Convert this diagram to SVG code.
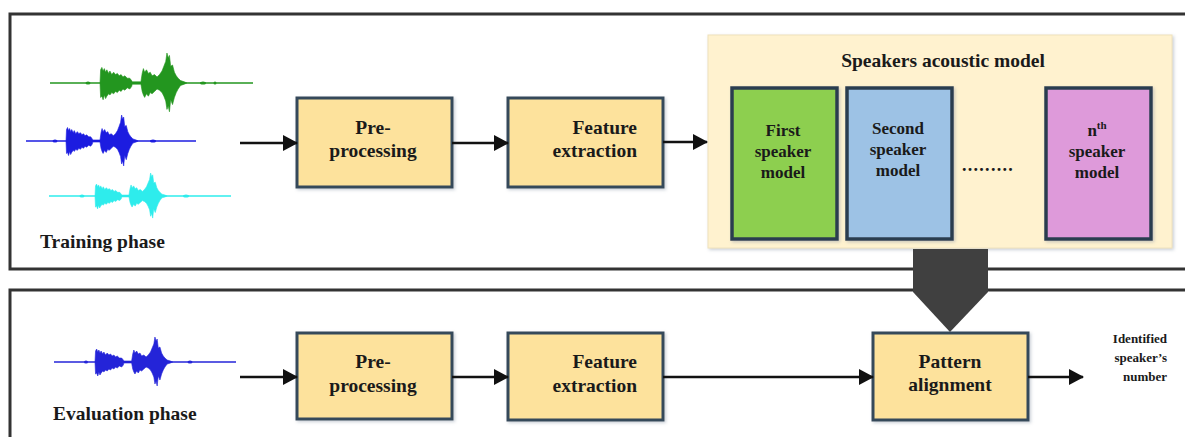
<svg xmlns="http://www.w3.org/2000/svg" xmlns:xlink="http://www.w3.org/1999/xlink" width="1185" height="437" viewBox="0 0 1185 437">
  <style>
    .frame { fill: none; stroke: #333; stroke-width: 3; }
    .box { fill: #FDE29C; stroke: #34495a; stroke-width: 3; filter: url(#soft); }
    .model { stroke: #2c3e50; stroke-width: 3.5; filter: url(#soft); }
    .lbl { font-family: "Liberation Serif", "Noto Serif", "DejaVu Serif", Tinos, "Nimbus Roman", FreeSerif, "Noto Serif CJK SC", "Noto Serif CJK JP", serif; font-weight: bold; fill: #1a1a1a; text-anchor: middle; }
    .b19 { font-size: 19.5px; }
    .b17 { font-size: 17px; }
    .conn { stroke: #111; stroke-width: 2.5; fill: none; marker-end: url(#ah); }
    .base { stroke-width: 1.4; fill: none; }
  </style>
  <defs>
    <marker id="ah" viewBox="0 0 15 16" refX="14" refY="8" markerWidth="15" markerHeight="16" markerUnits="userSpaceOnUse" orient="auto">
      <path d="M0,0 L15,8 L0,16 Z" fill="#111"/>
    </marker>
    <filter id="soft" x="-10%" y="-10%" width="125%" height="125%">
      <feDropShadow dx="1.5" dy="1.5" stdDeviation="1.5" flood-color="#8a96a8" flood-opacity="0.45"/>
    </filter>
    <!-- one spoken utterance: three energy bursts around a zero line -->
    <g id="burst">
      <path fill="currentColor" stroke="currentColor" stroke-width="0.6" vector-effect="non-scaling-stroke"
        d="M0,0 L0.5,-11 L1.5,-13 L2.5,-10 L3.5,-12 L4.5,-9 L5.5,-11 L7,-8 L8,-10 L9.5,-7 L11,-9 L12.5,-7 L14,-8 L15.5,-6 L17,-7 L18.5,-5 L20,-6 L22,-4 L24,-4 L25.5,-2 L26,-1 L33,-1 L34,-8 L35,-12 L36,-9 L37.5,-11 L39,-8 L40.5,-9 L42,-6 L44,-7 L46,-5 L48,-7 L50,-10 L51.5,-14 L53,-18 L54,-25 L55,-21 L56,-23 L57,-14 L58.5,-15 L60,-9 L61.5,-6 L63,-4 L65,-2 L68,-1 L70,0 L68,1 L65,2 L63,5 L61.5,8 L60,12 L58.5,18 L57,14 L56,24 L55,19 L54,22 L53,15 L51.5,11 L50,8 L48,6 L46,5 L44,7 L42,9 L40.5,8 L39,11 L37.5,9 L36,12 L35,10 L34,7 L33,1 L26,1 L25.5,3 L24,5 L22,4 L20,6 L18.5,5 L17,7 L15.5,6 L14,8 L12.5,7 L11,9 L9.5,8 L8,10 L7,9 L5.5,11 L4.5,13 L3.5,10 L2.5,14 L1.5,11 L0.5,12 Z"/>
    </g>
  </defs>

  <rect width="1185" height="437" fill="#ffffff"/>

  <!-- phase frames -->
  <g id="frames">
    <path class="frame" d="M1190,14 H10 V269 H1190"/>
    <path class="frame" d="M1190,290 H10 V445"/>
  </g>

  <!-- training waveforms -->
  <g id="training-signals">
    <g color="#23961f">
      <line class="base" x1="50" y1="83" x2="253" y2="83" stroke="#23961f"/>
      <ellipse cx="88" cy="83" rx="2.5" ry="1.5" fill="currentColor"/>
      <ellipse cx="203" cy="83" rx="3" ry="1.5" fill="currentColor"/>
      <ellipse cx="215" cy="83" rx="1.5" ry="1.5" fill="currentColor"/>
      <use xlink:href="#burst" href="#burst" transform="translate(100,83) scale(1.24,1.2)"/>
    </g>
    <g color="#1c1ce0">
      <line class="base" x1="26" y1="141" x2="196" y2="141" stroke="#1c1ce0"/>
      <ellipse cx="55" cy="141" rx="2.5" ry="1.5" fill="currentColor"/>
      <ellipse cx="153" cy="141" rx="3" ry="1.5" fill="currentColor"/>
      <use xlink:href="#burst" href="#burst" transform="translate(66,141) scale(1.03,1.04)"/>
    </g>
    <g color="#2eecec">
      <line class="base" x1="49" y1="196" x2="231" y2="196" stroke="#2eecec"/>
      <ellipse cx="82" cy="196" rx="2.5" ry="1.5" fill="currentColor"/>
      <ellipse cx="186" cy="196" rx="3" ry="1.5" fill="currentColor"/>
      <use xlink:href="#burst" href="#burst" transform="translate(95,196) scale(1.03,0.92)"/>
    </g>
    <text class="lbl b19" x="40" y="248" style="text-anchor:start">Training phase</text>
  </g>

  <!-- evaluation waveform -->
  <g id="evaluation-signal" color="#2424d8">
    <line class="base" x1="54" y1="362" x2="236" y2="362" stroke="#2424d8"/>
    <ellipse cx="86" cy="362" rx="2" ry="1.5" fill="currentColor"/>
    <ellipse cx="190" cy="362" rx="2.5" ry="1.5" fill="currentColor"/>
    <use xlink:href="#burst" href="#burst" transform="translate(95,362) scale(1.11,1.0)"/>
    <text class="lbl b19" x="53" y="420" style="text-anchor:start">Evaluation phase</text>
  </g>

  <!-- training pipeline -->
  <g id="train-preprocessing">
    <rect class="box" x="297" y="98" width="155" height="89"/>
    <text class="lbl b19" x="373" y="134">Pre-</text>
    <text class="lbl b19" x="373" y="157">processing</text>
  </g>
  <g id="train-feature-extraction">
    <rect class="box" x="508" y="98" width="155" height="89"/>
    <text class="lbl b19" x="637" y="134" style="text-anchor:end">Feature</text>
    <text class="lbl b19" x="637" y="157" style="text-anchor:end">extraction</text>
  </g>

  <g id="acoustic-model">
    <rect x="708" y="35" width="464" height="213" fill="#FFF2CF" stroke="#efe2bc" stroke-width="1" filter="url(#soft)"/>
    <text class="lbl b19" x="943" y="67">Speakers acoustic model</text>
  </g>
  <g id="first-speaker">
    <rect class="model" x="732" y="88" width="105" height="151" fill="#8DCF4F"/>
    <text class="lbl b17" x="783" y="136">First</text>
    <text class="lbl b17" x="783" y="157">speaker</text>
    <text class="lbl b17" x="783" y="178">model</text>
  </g>
  <g id="second-speaker">
    <rect class="model" x="847" y="88" width="105" height="151" fill="#9DC2E5"/>
    <text class="lbl b17" x="898" y="134">Second</text>
    <text class="lbl b17" x="898" y="155">speaker</text>
    <text class="lbl b17" x="898" y="176">model</text>
  </g>
  <g id="ellipsis">
    <text class="lbl" x="988" y="171" style="font-size:18px;letter-spacing:1.3px">.........</text>
  </g>
  <g id="nth-speaker">
    <rect class="model" x="1046" y="88" width="105" height="151" fill="#DE9ADA"/>
    <text class="lbl b17" x="1097" y="136">n<tspan dy="-7" style="font-size:11px">th</tspan></text>
    <text class="lbl b17" x="1097" y="157">speaker</text>
    <text class="lbl b17" x="1097" y="178">model</text>
  </g>

  <!-- evaluation pipeline -->
  <g id="eval-preprocessing">
    <rect class="box" x="297" y="333" width="155" height="86"/>
    <text class="lbl b19" x="373" y="368">Pre-</text>
    <text class="lbl b19" x="373" y="392">processing</text>
  </g>
  <g id="eval-feature-extraction">
    <rect class="box" x="508" y="333" width="155" height="87"/>
    <text class="lbl b19" x="637" y="368" style="text-anchor:end">Feature</text>
    <text class="lbl b19" x="637" y="392" style="text-anchor:end">extraction</text>
  </g>
  <g id="pattern-alignment">
    <rect class="box" x="873" y="333" width="155" height="87"/>
    <text class="lbl b19" x="950" y="368">Pattern</text>
    <text class="lbl b19" x="950" y="391">alignment</text>
  </g>
  <g id="result">
    <text class="lbl" x="1167" y="343" style="font-size:13px;text-anchor:end">Identified</text>
    <text class="lbl" x="1167" y="362" style="font-size:13px;text-anchor:end">speaker’s</text>
    <text class="lbl" x="1167" y="381" style="font-size:13px;text-anchor:end">number</text>
  </g>

  <!-- connectors -->
  <g id="connectors">
    <line class="conn" x1="240" y1="143" x2="297" y2="143"/>
    <line class="conn" x1="452" y1="143" x2="508" y2="143"/>
    <line class="conn" x1="663" y1="142" x2="707" y2="142"/>
    <line class="conn" x1="240" y1="377" x2="297" y2="377"/>
    <line class="conn" x1="452" y1="377" x2="508" y2="377"/>
    <line class="conn" x1="663" y1="377" x2="873" y2="377"/>
    <line class="conn" x1="1028" y1="377" x2="1083" y2="377"/>
    <!-- model lookup feeding the alignment stage -->
    <polygon points="913,249 988,249 988,292 950,332 913,292" fill="#404040"/>
  </g>
</svg>
